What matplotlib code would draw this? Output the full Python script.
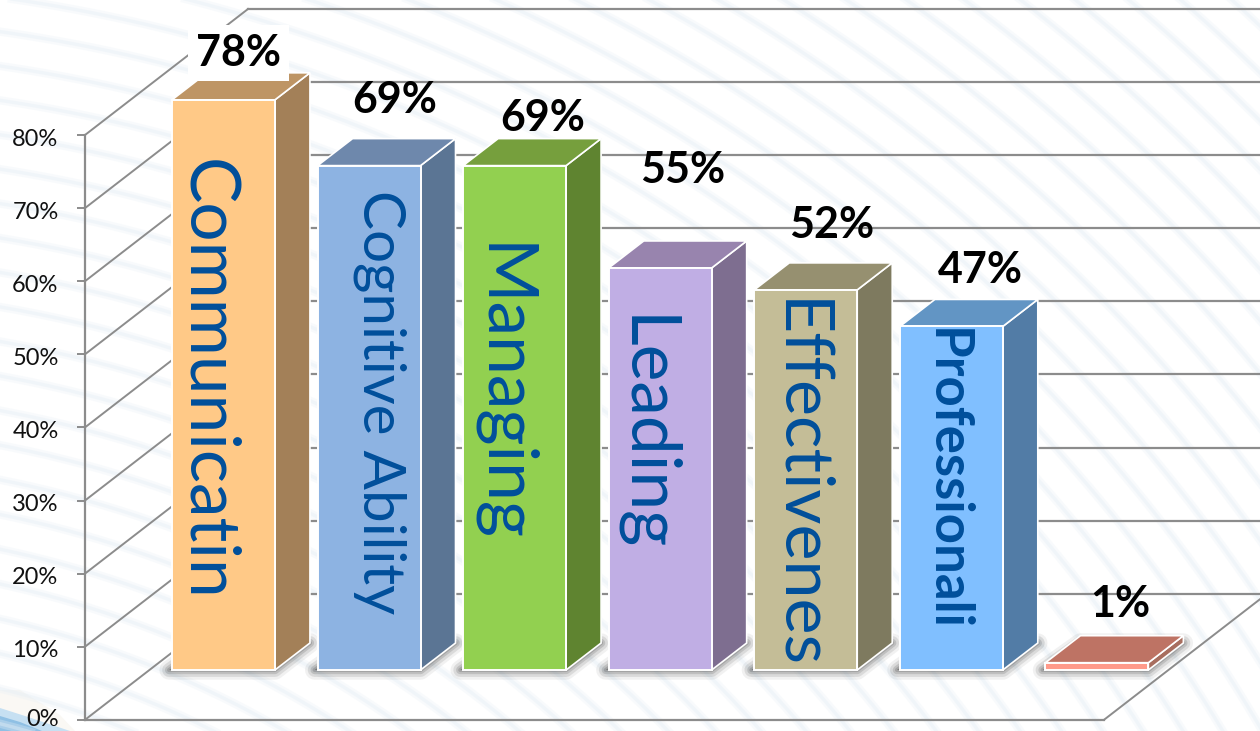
import numpy as np
import matplotlib
matplotlib.use("Agg")
import matplotlib.pyplot as plt
from matplotlib.patches import Polygon
from matplotlib.transforms import ScaledTranslation

# Data
categories = ["Communicatin", "Cognitive Ability", "Managing", "Leading",
              "Effectivenes", "Professionali", ""]
values = [78, 69, 69, 55, 52, 47, 1]
value_labels = ["78%", "69%", "69%", "55%", "52%", "47%", "1%"]
yticks = [0, 10, 20, 30, 40, 50, 60, 70, 80]
ytick_labels = ["0%", "10%", "20%", "30%", "40%", "50%", "60%", "70%", "80%"]

# Colours: front, side, top
front_colors = ["#FFC987", "#8DB3E2", "#92D050", "#C0AEE4", "#C4BD97", "#80BFFF", "#FF9A8A"]
side_colors = ["#A38058", "#5B7594", "#5F8430", "#7E6E90", "#7E7A5F", "#527CA6", "#A86E5F"]
top_colors = ["#BE9565", "#6E88AC", "#769F3D", "#9884AE", "#969070", "#6295C4", "#BE7364"]
text_blue = "#004F9B"
grid_gray = "#8C8C8C"

# Label layout (pixels from bar centre and value)
value_offsets = [(15, 47), (26, 66), (28, 48), (22, 98), (26, 65), (29, 56), (23, 59)]
name_offsets = [(-17, 290), (11, 268), (-13, 277), (-16, 236), (-8, 185), (-5, 190), (0, 0)]
name_sizes = [50, 42, 50, 50, 49, 38, 10]
name_weights = ["normal"] * 5 + ["bold", "normal"]

W, H = 1260, 731
fig = plt.figure(figsize=(W / 100, H / 100), dpi=100, facecolor="white")

# Background swooshes, in figure pixels
bg = fig.add_axes([0, 0, 1, 1], zorder=0)
bg.set_xlim(0, W)
bg.set_ylim(H, 0)
bg.axis("off")
theta = np.linspace(0, np.pi / 2, 300)
for r in range(700, 2500, 34):
    xs = -222 + r * np.sin(theta)
    ys = 1600 - r * np.cos(theta)
    bg.plot(xs, ys, color="#E9F1F7", lw=6, alpha=0.3)
    bg.plot(xs, ys, color="#E6EFF6", lw=2.5, alpha=0.4)
bg.add_patch(Polygon([(0, 690), (20, 690), (60, 715), (75, 731), (0, 731)], color="#FAF8F4", lw=0))
bg.add_patch(Polygon([(0, 708), (25, 716), (70, 731), (0, 731)], color="#C6E0F2", lw=0))
bg.add_patch(Polygon([(0, 716), (20, 722), (42, 731), (0, 731)], color="#8FC0E4", lw=0))

# Chart axes = front plane of the 3D box
left, right, y0, y80 = 85, 1104, 719.8, 135
ax = fig.add_axes([left / W, 1 - y0 / H, (right - left) / W, (y0 - y80) / H], zorder=1)
ax.patch.set_alpha(0)
ax.set_xlim(0, 7)
ax.set_ylim(0, 80)
for s in ["top", "right"]:
    ax.spines[s].set_visible(False)
for s in ["left", "bottom"]:
    ax.spines[s].set_color(grid_gray)
    ax.spines[s].set_linewidth(1.6)
ax.set_xticks([])
ax.set_yticks(yticks)
ax.set_yticklabels(ytick_labels, fontsize=17, family="Lato", color="#111111")
ax.tick_params(axis="y", length=6, width=1.4, color=grid_gray, pad=13)
# labels sit a little low, the 0% one has to stay inside the picture
for t, lab in zip(yticks, ax.get_yticklabels()):
    shift = ScaledTranslation(0, (-2 if t > 0 else 2) / 100, fig.dpi_scale_trans)
    lab.set_transform(lab.get_transform() + shift)

px_x = 7 / (right - left)
px_y = 80 / (y0 - y80)

# depth of the box and of the bars, in data units
wall_dx, wall_dy = 163 * px_x, 126 * px_y
bar_x0, floor = 65.7 * px_x, 49.8 * px_y
bar_dx, bar_dy = 35 * px_x, 27 * px_y
bar_width = 0.707

# Walls and floor
for t in yticks:
    ax.plot([0, wall_dx], [t, t + wall_dy], color=grid_gray, lw=1.4, clip_on=False, zorder=1)
    ax.plot([wall_dx, 7 + wall_dx], [t + wall_dy, t + wall_dy], color=grid_gray, lw=1.6,
            clip_on=False, zorder=1)
ax.plot([7, 7 + wall_dx], [0, wall_dy], color=grid_gray, lw=1.4, clip_on=False, zorder=1)

# Bars
for i, v in enumerate(values):
    xl = i + 0.5 - bar_width / 2 + bar_x0
    xr = xl + bar_width
    # soft shadow on the floor
    shadow = [(xl - 0.02, floor), (xr, floor), (xr + bar_dx, floor + bar_dy),
              (xl + bar_dx, floor + bar_dy)]
    for lw, a in zip([14, 10, 6, 3], [0.08, 0.14, 0.2, 0.25]):
        ax.add_patch(Polygon(shadow, closed=True, facecolor="#555555", edgecolor="#555555",
                             lw=lw, alpha=a, clip_on=False, zorder=2, joinstyle="round"))
for i, v in enumerate(values):
    xl = i + 0.5 - bar_width / 2 + bar_x0
    xr = xl + bar_width
    top = floor + v
    z = 3 + i * 0.01
    ax.add_patch(Polygon([(xr, floor), (xr + bar_dx, floor + bar_dy), (xr + bar_dx, top + bar_dy), (xr, top)],
                         closed=True, facecolor=side_colors[i], edgecolor="white", lw=1.2,
                         clip_on=False, zorder=z))
    ax.add_patch(Polygon([(xl, top), (xr, top), (xr + bar_dx, top + bar_dy), (xl + bar_dx, top + bar_dy)],
                         closed=True, facecolor=top_colors[i], edgecolor="white", lw=1.2,
                         clip_on=False, zorder=z))
    ax.bar(xl, v, width=bar_width, bottom=floor, align="edge", color=front_colors[i],
           edgecolor="white", linewidth=1.4, clip_on=False, zorder=z)
    cx = (xl + xr) / 2
    nx, ny = name_offsets[i]
    ax.annotate(categories[i], (cx, floor), xytext=(nx, ny), textcoords="offset pixels",
                rotation=-90, ha="center", va="center", fontsize=name_sizes[i],
                family="Lato", color=text_blue, weight=name_weights[i],
                zorder=4, annotation_clip=False)
    vx, vy = value_offsets[i]
    box = dict(facecolor="white", edgecolor="none", pad=6) if i == 0 else None
    ax.annotate(value_labels[i], (cx, top), xytext=(vx, vy), textcoords="offset pixels",
                ha="center", va="center", fontsize=31, weight="bold", family="Lato",
                color="black", bbox=box, zorder=5, annotation_clip=False)

fig.savefig("out.png", dpi=100)
